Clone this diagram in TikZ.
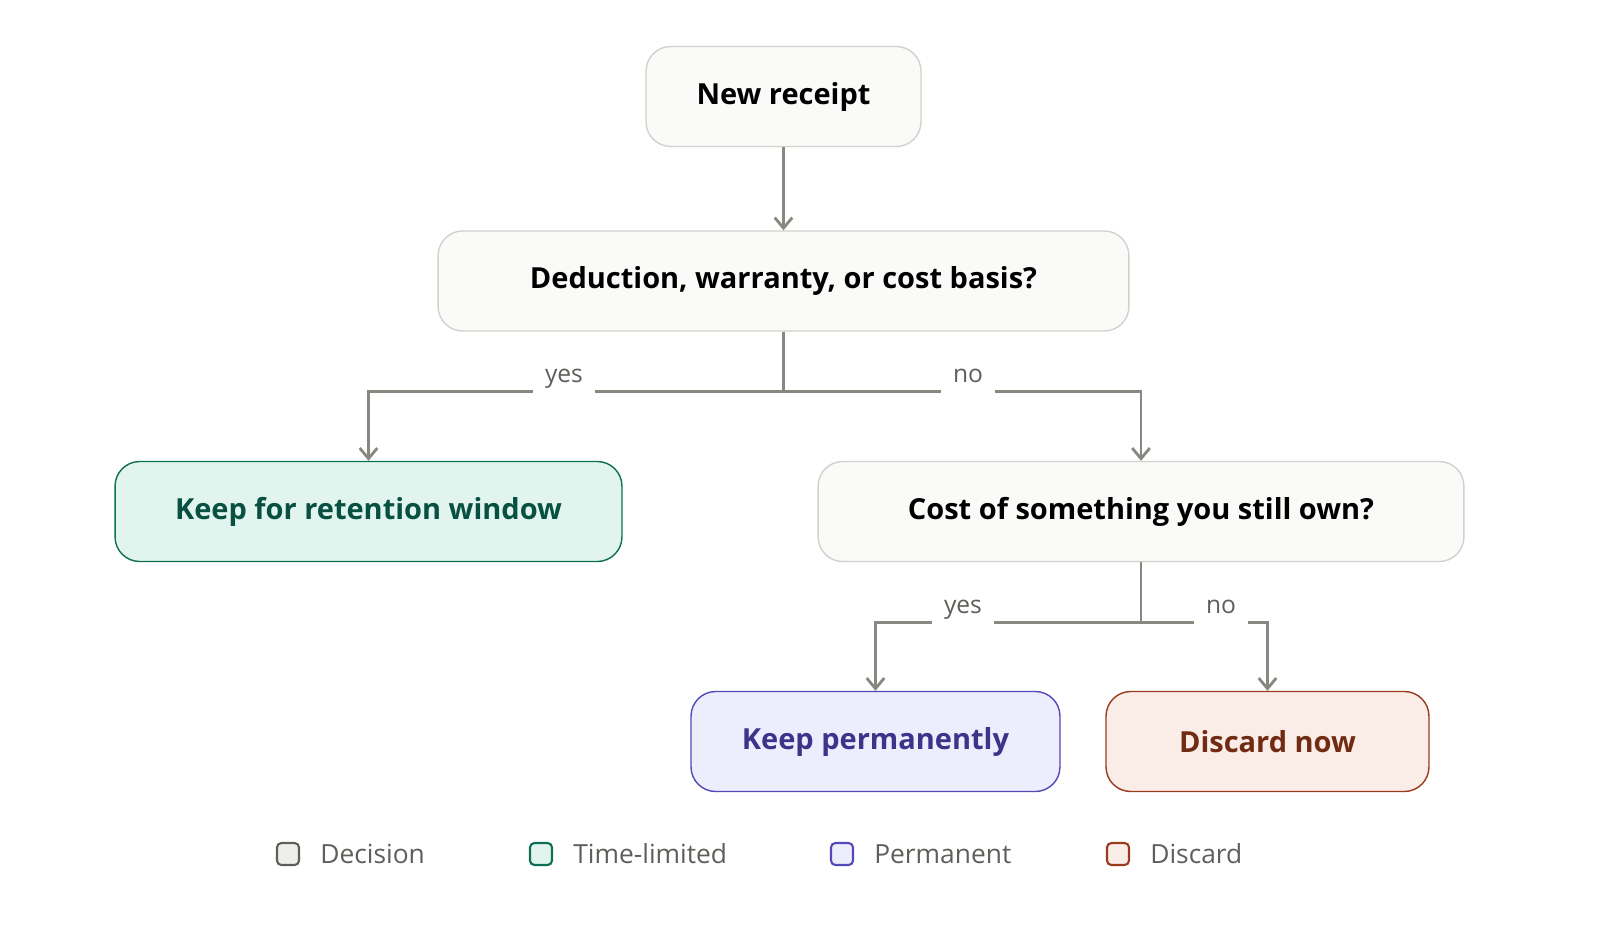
\documentclass[tikz,border=0pt]{standalone}
\usepackage{fontspec}
\setmainfont{Open Sans}
\usetikzlibrary{positioning,arrows.meta}
\definecolor{decfill}{HTML}{FAFAF8}
\definecolor{decline}{HTML}{D3D1CB}
\definecolor{timefill}{HTML}{E1F5EE}
\definecolor{timeline}{HTML}{0F6E56}
\definecolor{timetext}{HTML}{085041}
\definecolor{permfill}{HTML}{EEEDFE}
\definecolor{permline}{HTML}{534AB7}
\definecolor{permtext}{HTML}{3C3489}
\definecolor{discfill}{HTML}{FAECE7}
\definecolor{discline}{HTML}{993C1D}
\definecolor{disctext}{HTML}{712B13}
\definecolor{wire}{HTML}{888780}
\definecolor{legtext}{HTML}{5F5E5A}

\begin{document}
\begin{tikzpicture}[x=0.02cm, y=-0.02cm,
    box/.style={rounded corners=14pt, line width=0.8pt, minimum height=2cm,
        font=\fontsize{16.5}{19}\selectfont\bfseries},
    decision/.style={box, draw=decline, fill=decfill, text=black},
    timelimited/.style={box, draw=timeline, fill=timefill, text=timetext},
    permanent/.style={box, draw=permline, fill=permfill, text=permtext},
    discard/.style={box, draw=discline, fill=discfill, text=disctext},
    arr/.style={draw=wire, line width=1.6pt, -{Straight Barb[length=6pt,width=10pt]}},
    lbl/.style={fill=white, text=legtext, font=\fontsize{14}{16}\selectfont,
        inner xsep=7pt, inner ysep=6pt, anchor=base},
    key/.style={rounded corners=2.5pt, line width=1.2pt, minimum size=0.44cm, inner sep=0pt},
    keytext/.style={text=legtext, font=\fontsize{15}{17}\selectfont, anchor=west}]
    \useasboundingbox (0,0) rectangle (1600,941);

    % Decisions
    \node[decision, minimum width=5.5cm] (receipt) at (783.5,96.5) {New receipt};
    \node[decision, minimum width=13.82cm] (basis) at (783.5,281) {Deduction, warranty, or cost basis?};
    \node[decision, minimum width=12.92cm] (owned) at (1141,511.5) {Cost of something you still own?};

    % Outcomes
    \node[timelimited, minimum width=10.14cm] (retain) at (368.5,511.5) {Keep for retention window};
    \node[permanent, minimum width=7.38cm] (keep) at (875.5,741.5) {Keep permanently};
    \node[discard, minimum width=6.46cm] (toss) at (1267.5,741.5) {Discard now};

    % Connectors
    \draw[arr] (receipt) -- (basis);
    \draw[arr] (basis.south) -- ++(0,60) -| (retain.north);
    \draw[arr] (basis.south) -- ++(0,60) -| (owned.north);
    \draw[arr] (owned.south) -- ++(0,60) -| (keep.north);
    \draw[arr] (owned.south) -- ++(0,60) -| (toss.north);
    \node[lbl] (yes1) at (564,382) {yes};
    \node[lbl] (no1) at (968,382) {no};
    \node[lbl] (yes2) at (963,613) {yes};
    \node[lbl] (no2) at (1221,613) {no};

    % Legend
    \node[key, draw=legtext, fill=decfill!70!decline] (k1) at (288,854) {};
    \node[keytext, right=8pt of k1] {Decision};
    \node[key, draw=timeline, fill=timefill] (k2) at (541,854) {};
    \node[keytext, right=8pt of k2] {Time-limited};
    \node[key, draw=permline, fill=permfill] (k3) at (842,854) {};
    \node[keytext, right=8pt of k3] {Permanent};
    \node[key, draw=discline, fill=discfill] (k4) at (1118,854) {};
    \node[keytext, right=8pt of k4] {Discard};
\end{tikzpicture}
\end{document}
